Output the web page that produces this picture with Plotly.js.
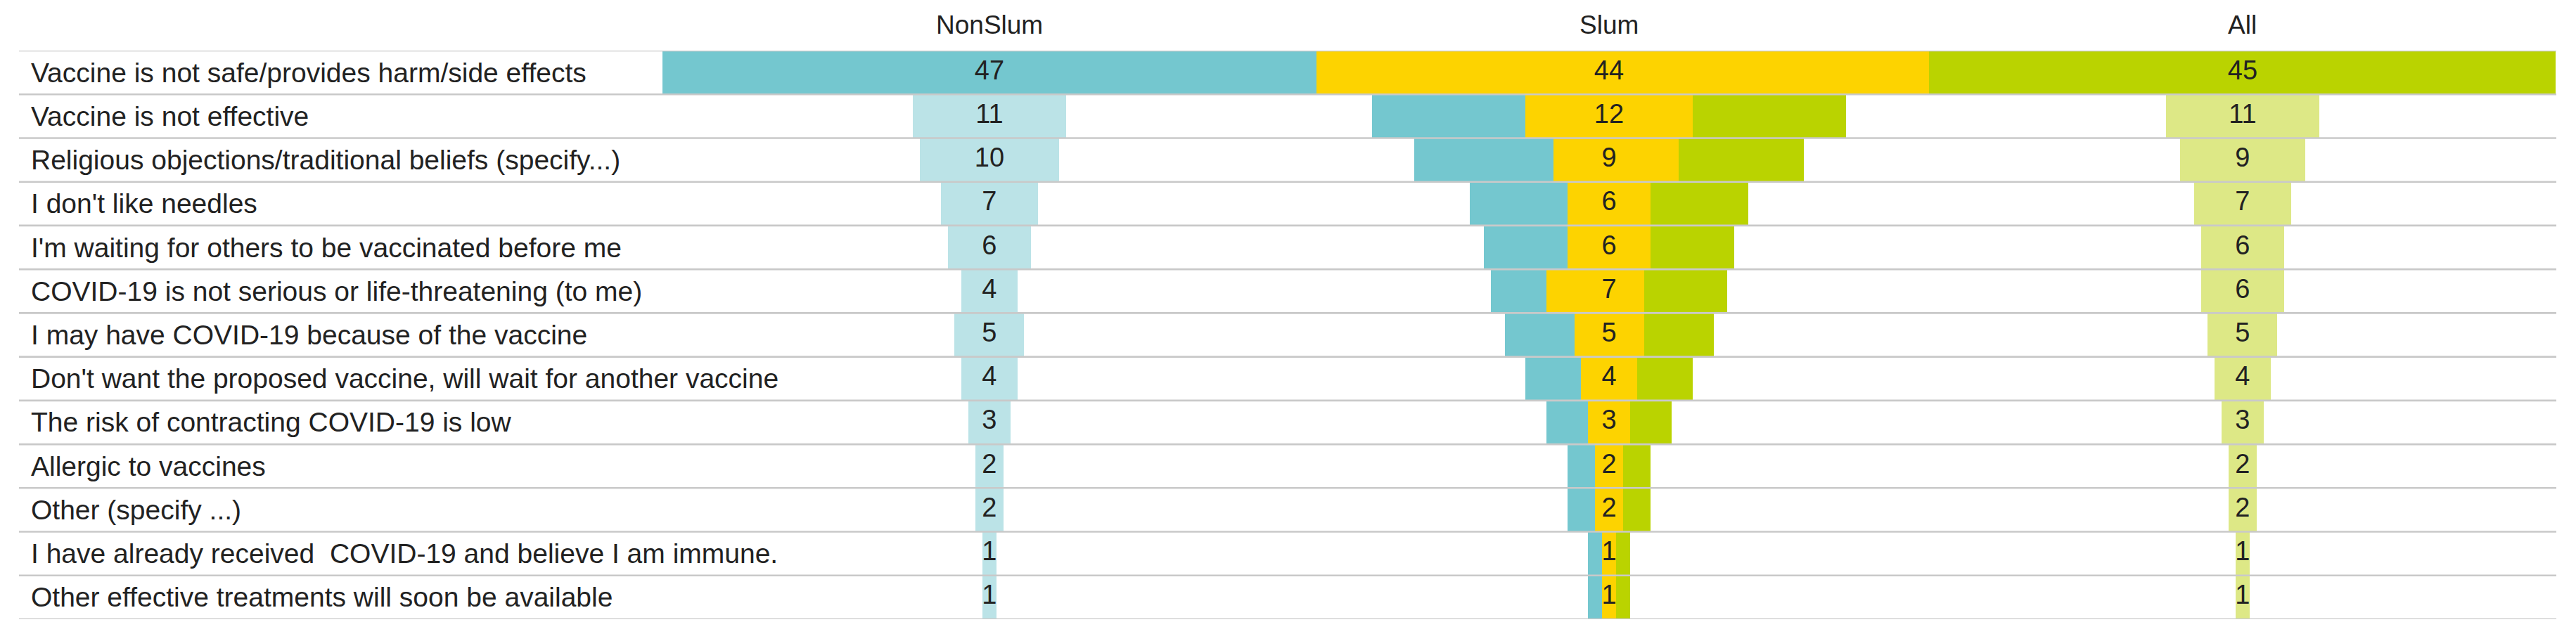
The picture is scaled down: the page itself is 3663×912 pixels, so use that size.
<!DOCTYPE html>
<html>
<head>
<meta charset="utf-8">
<script src="https://cdn.plot.ly/plotly-3.0.1.min.js"></script>
<style>
html,body{margin:0;padding:0;background:#fff;}
#chart{width:3663px;height:912px;}
</style>
</head>
<body>
<div id="chart"></div>
<script>
// ---- data ----
const categories = [
  "Vaccine is not safe/provides harm/side effects",
  "Vaccine is not effective",
  "Religious objections/traditional beliefs (specify...)",
  "I don't like needles",
  "I'm waiting for others to be vaccinated before me",
  "COVID-19 is not serious or life-threatening (to me)",
  "I may have COVID-19 because of the vaccine",
  "Don't want the proposed vaccine, will wait for another vaccine",
  "The risk of contracting COVID-19 is low",
  "Allergic to vaccines",
  "Other (specify ...)",
  "I have already received  COVID-19 and believe I am immune.",
  "Other effective treatments will soon be available"
];
const columnLabels = ["NonSlum", "Slum", "All"];
const nonSlum = [47, 11, 10, 7, 6, 4, 5, 4, 3, 2, 2, 1, 1];
const slum    = [44, 12,  9, 6, 6, 7, 5, 4, 3, 2, 2, 1, 1];
const allVals = [45, 11,  9, 7, 6, 6, 5, 4, 3, 2, 2, 1, 1];

// ---- layout constants ----
const W = 3663, H = 912;
const PX_PER_UNIT = 19.8;
const XMAX = W / PX_PER_UNIT;
const cS = 2288 / PX_PER_UNIT;          // Slum column centre
const cN = cS - 44.5;                   // NonSlum column centre
const cA = cS + 45.5;                   // All column centre
const TOP = 72, BOTTOM = 881;

const TEAL = "#74C7CF", TEAL_L = "#BBE3E7";
const YELLOW = "#FDD300";
const GREEN = "#BAD300", GREEN_L = "#DDE886";
const TXT = "#222222";
const FONT = "Liberation Sans, Arial, sans-serif";

const idx = categories.map((_, i) => i);
const totals = idx.map(i => nonSlum[i] + slum[i] + allVals[i]);

const common = {type: "bar", orientation: "h", y: idx, width: 1, hoverinfo: "skip", showlegend: false};

const traces = [
  Object.assign({}, common, {
    x: nonSlum, base: nonSlum.map(v => cN - v / 2),
    marker: {color: idx.map(i => i === 0 ? TEAL : TEAL_L)}
  }),
  Object.assign({}, common, {
    x: allVals, base: allVals.map(v => cA - v / 2),
    marker: {color: idx.map(i => i === 0 ? GREEN : GREEN_L)}
  }),
  Object.assign({}, common, {
    x: nonSlum, base: idx.map(i => cS - totals[i] / 2),
    marker: {color: TEAL}
  }),
  Object.assign({}, common, {
    x: slum, base: idx.map(i => cS - totals[i] / 2 + nonSlum[i]),
    marker: {color: YELLOW}
  }),
  Object.assign({}, common, {
    x: allVals, base: idx.map(i => cS + totals[i] / 2 - allVals[i]),
    marker: {color: GREEN}
  })
];

const centres = [cN, cS, cA];
const seriesVals = [nonSlum, slum, allVals];
seriesVals.forEach((vals, k) => {
  traces.push({
    type: "scatter", mode: "text", x: idx.map(() => centres[k]), y: idx,
    text: vals.map(String), textposition: "middle center",
    textfont: {family: FONT, size: 38, color: TXT},
    hoverinfo: "skip", showlegend: false, cliponaxis: false
  });
});

const shapes = [];
for (let k = 0; k <= categories.length; k++) {
  shapes.push({type: "line", xref: "paper", yref: "y",
    x0: 27 / W, x1: 3635 / W, y0: k - 0.5, y1: k - 0.5,
    line: {color: "#C9C9C9", width: 2.6}, layer: "above"});
}

const annotations = [];
categories.forEach((c, i) => {
  annotations.push({xref: "paper", yref: "y", x: 42 / W, y: i, xanchor: "left", yanchor: "middle",
    text: c, showarrow: false, font: {family: FONT, size: 39, color: TXT}});
});
const plotH = BOTTOM - TOP;
columnLabels.forEach((c, k) => {
  annotations.push({xref: "x", yref: "paper", x: centres[k], y: 1 + (TOP - 35) / plotH,
    xanchor: "center", yanchor: "middle", text: c, showarrow: false,
    font: {family: FONT, size: 37, color: TXT}});
});

const layout = {
  width: W, height: H,
  margin: {l: 0, r: 0, t: TOP, b: H - BOTTOM, pad: 0},
  paper_bgcolor: "#fff", plot_bgcolor: "#fff",
  barmode: "overlay", bargap: 0,
  xaxis: {range: [0, XMAX], visible: false, fixedrange: true},
  yaxis: {range: [categories.length - 0.5, -0.5], visible: false, fixedrange: true},
  shapes: shapes, annotations: annotations,
  showlegend: false
};

Plotly.newPlot("chart", traces, layout, {staticPlot: true, displayModeBar: false});
</script>
</body>
</html>
